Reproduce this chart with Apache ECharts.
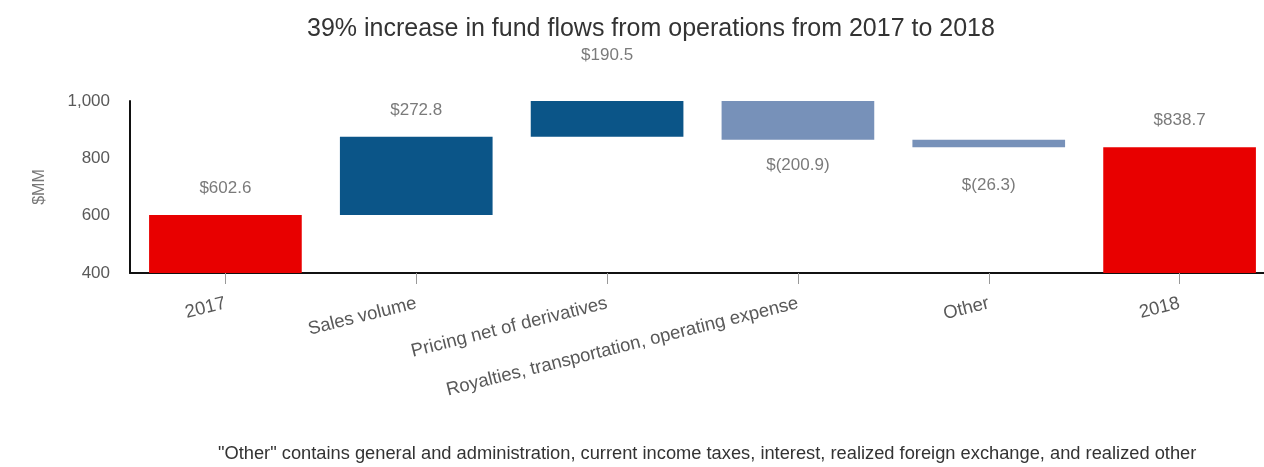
<!DOCTYPE html>
<html>
<head>
<meta charset="utf-8">
<script src="https://cdn.jsdelivr.net/npm/echarts@6/dist/echarts.min.js"></script>
<style>
  html, body { margin: 0; padding: 0; background: #fff; }
  #chart { width: 1264px; height: 467px; }
</style>
</head>
<body>
<div id="chart"></div>
<script>
// Fund flows from operations bridge, $MM
const categories = ['2017', 'Sales volume', 'Pricing net of derivatives',
  'Royalties, transportation, operating expense', 'Other', '2018'];
const startTotal = 602.6;
const changes = [272.8, 190.5, -200.9, -26.3];
const endTotal = 838.7;
const yTicks = [400, 600, 800, 1000];

const RED = '#E80000';
const DARK_BLUE = '#0B5588';
const LIGHT_BLUE = '#7791B9';

// Build the floating (invisible) bases and visible segments of the waterfall
const base = [];
const visible = [];
const labelTop = [];
const labelBottom = [];
const fmt = v => v < 0 ? '$(' + Math.abs(v).toFixed(1) + ')' : '$' + v.toFixed(1);

base.push(0);
visible.push({ value: startTotal, itemStyle: { color: RED } });
labelTop.push({ value: [0, startTotal], text: fmt(startTotal) });
let running = startTotal;
changes.forEach((c, i) => {
  const idx = i + 1;
  const lo = c >= 0 ? running : running + c;
  base.push(lo);
  visible.push({ value: Math.abs(c), itemStyle: { color: c >= 0 ? DARK_BLUE : LIGHT_BLUE } });
  if (c >= 0) {
    labelTop.push({ value: [idx, running + c], text: fmt(c) });
  } else {
    // thin bars get their label pushed a little further down
    const item = { value: [idx, running + c], text: fmt(c) };
    if (Math.abs(c) < 50) item.label = { distance: 30 };
    labelBottom.push(item);
  }
  running += c;
});
base.push(0);
visible.push({ value: endTotal, itemStyle: { color: RED } });
labelTop.push({ value: [5, endTotal], text: fmt(endTotal) });

const chart = echarts.init(document.getElementById('chart'), null, { renderer: 'canvas' });
const FONT = 'Liberation Sans, Arial, sans-serif';
const labelFont = { fontFamily: FONT, fontSize: 17, color: '#595959' };

chart.setOption({
  animation: false,
  backgroundColor: '#ffffff',
  title: {
    text: '39% increase in fund flows from operations from 2017 to 2018',
    left: 302,
    top: 12,
    textStyle: { fontFamily: FONT, fontSize: 25, fontWeight: 'normal', color: '#333333' }
  },
  grid: { left: 130, right: -11, top: 101, bottom: 194, containLabel: false, outerBoundsMode: 'none' },
  xAxis: {
    type: 'category',
    data: categories,
    axisLine: { lineStyle: { color: '#111', width: 2 } },
    axisTick: { show: true, alignWithLabel: true, length: 11, lineStyle: { color: '#999', width: 1 } },
    axisLabel: Object.assign({ rotate: 14, margin: 30, interval: 0 }, labelFont, { fontSize: 18.5 })
  },
  yAxis: {
    type: 'value',
    min: yTicks[0],
    max: yTicks[yTicks.length - 1],
    interval: 200,
    name: '$MM',
    nameLocation: 'middle',
    nameRotate: 90,
    nameGap: 82,
    nameTextStyle: { fontFamily: FONT, fontSize: 16, color: '#777' },
    axisLine: { show: true, lineStyle: { color: '#111', width: 2 } },
    axisTick: { show: false },
    splitLine: { show: false },
    axisLabel: Object.assign({ margin: 20, formatter: v => v.toLocaleString('en-US') }, labelFont)
  },
  series: [
    {
      type: 'bar',
      stack: 'wf',
      data: base,
      barWidth: '80%',
      itemStyle: { color: 'transparent' },
      silent: true
    },
    {
      type: 'bar',
      stack: 'wf',
      data: visible,
      barWidth: '80%'
    },
    {
      type: 'scatter',
      symbolSize: 0,
      clip: false,
      data: labelTop,
      label: Object.assign({ show: true, position: 'top', distance: 18, formatter: p => p.data.text }, labelFont)
    },
    {
      type: 'scatter',
      symbolSize: 0,
      clip: false,
      data: labelBottom,
      label: Object.assign({ show: true, position: 'bottom', distance: 17, formatter: p => p.data.text }, labelFont)
    }
  ],
  graphic: [{
    type: 'text',
    left: 218,
    top: 445,
    style: {
      text: '"Other" contains general and administration, current income taxes, interest, realized foreign exchange, and realized other',
      font: '18.3px "Liberation Sans", Arial, sans-serif',
      fill: '#333'
    }
  }]
});
</script>
</body>
</html>
